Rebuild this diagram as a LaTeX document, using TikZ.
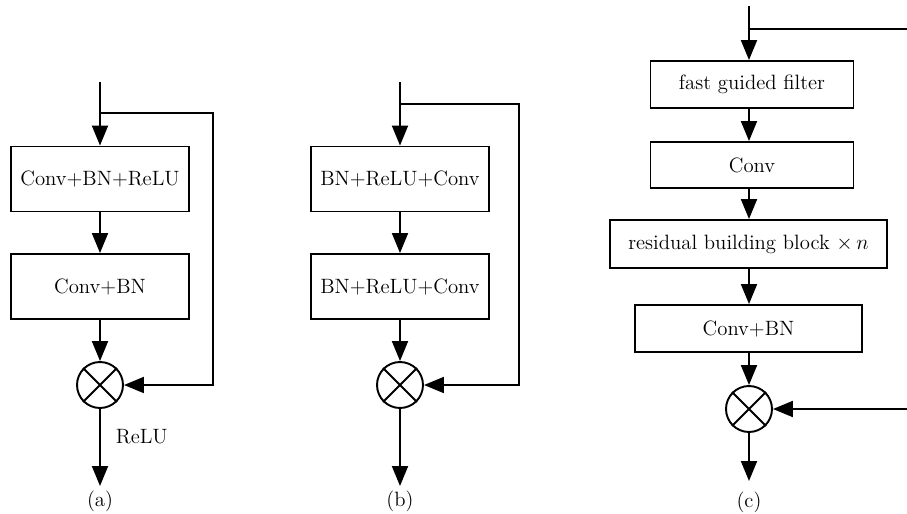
\documentclass[tikz,border=0pt]{standalone}
\usepackage{tikz}
\usetikzlibrary{arrows.meta}

\begin{document}
\begin{tikzpicture}[
    x=0.02cm, y=-0.02cm,
    >={Triangle[length=4mm,width=3.2mm]},
    line width=1.1pt,
    font=\fontsize{11.8}{13.5}\selectfont,
    block/.style={
        draw,
        line width=1.1pt,
        align=center,
        minimum width=3.57cm,
        minimum height=1.3cm,
        inner sep=2pt
    },
    mult/.style={
        draw,
        circle,
        line width=1.1pt,
        minimum size=0.92cm,
        inner sep=0pt
    }
]

\useasboundingbox (0,0) rectangle (907,514);

% --------------------------------------------------
% (a) basic residual block
% --------------------------------------------------

\coordinate (a-in) at (100,82);
\coordinate (a-br) at (100,113);
\coordinate (a-r)  at (213,113);
\coordinate (a-out) at (100,486);

\node[block] (a-b1) at (100,179) {Conv+BN+ReLU};
\node[block] (a-b2) at (100,286.5) {Conv+BN};
\node[mult]  (a-m)  at (100,385) {};
\draw (a-m.45) -- (a-m.225) (a-m.135) -- (a-m.-45);

\draw[->] (a-in) -- (a-b1.north);
\draw[->] (a-b1) -- (a-b2);
\draw[->] (a-b2) -- (a-m);
\draw[->] (a-br) -- (a-r) |- (a-m.east);
\draw[->] (a-m) -- (a-out);

\node[anchor=west] (a-relu) at (109,437) {ReLU};
\node (a-cap) at (100,501) {(a)};

% --------------------------------------------------
% (b) pre-activation residual block
% --------------------------------------------------

\coordinate (b-in) at (400,82);
\coordinate (b-br) at (400,104);
\coordinate (b-r)  at (519,104);
\coordinate (b-out) at (400,486);

\node[block] (b-b1) at (400,179) {BN+ReLU+Conv};
\node[block] (b-b2) at (400,286.5) {BN+ReLU+Conv};
\node[mult]  (b-m)  at (400,385) {};
\draw (b-m.45) -- (b-m.225) (b-m.135) -- (b-m.-45);

\draw[->] (b-in) -- (b-b1.north);
\draw[->] (b-b1) -- (b-b2);
\draw[->] (b-b2) -- (b-m);
\draw[->] (b-br) -- (b-r) |- (b-m.east);
\draw[->] (b-m) -- (b-out);

\node (b-cap) at (400,501) {(b)};

% --------------------------------------------------
% (c) proposed block
% --------------------------------------------------

\coordinate (c-in) at (749,6);
\coordinate (c-br) at (749,29);
\coordinate (c-r)  at (912,29);
\coordinate (c-out) at (749,481);

\node[block, minimum width=4.06cm, minimum height=0.94cm]
    (c-b1) at (752,84.5) {fast guided filter};
\node[block, minimum width=4.06cm, minimum height=0.92cm]
    (c-b2) at (752,165) {Conv};
\node[block, minimum width=5.54cm, minimum height=0.96cm]
    (c-b3) at (748.5,244) {residual building block $\times\, n$};
\node[block, minimum width=4.54cm, minimum height=0.94cm]
    (c-b4) at (748.5,328.5) {Conv+BN};
\node[mult]  (c-m)  at (749,409) {};
\draw (c-m.45) -- (c-m.225) (c-m.135) -- (c-m.-45);

\draw[->] (c-in) -- (c-b1.north -| c-in);
\draw[->] (c-b1.south -| c-in) -- (c-b2.north -| c-in);
\draw[->] (c-b2.south -| c-in) -- (c-b3.north -| c-in);
\draw[->] (c-b3.south -| c-in) -- (c-b4.north -| c-in);
\draw[->] (c-b4.south -| c-in) -- (c-m);
\draw[->] (c-br) -- (c-r) |- (c-m.east);
\draw[->] (c-m) -- (c-out);

\node (c-cap) at (749,502) {(c)};

\end{tikzpicture}
\end{document}
